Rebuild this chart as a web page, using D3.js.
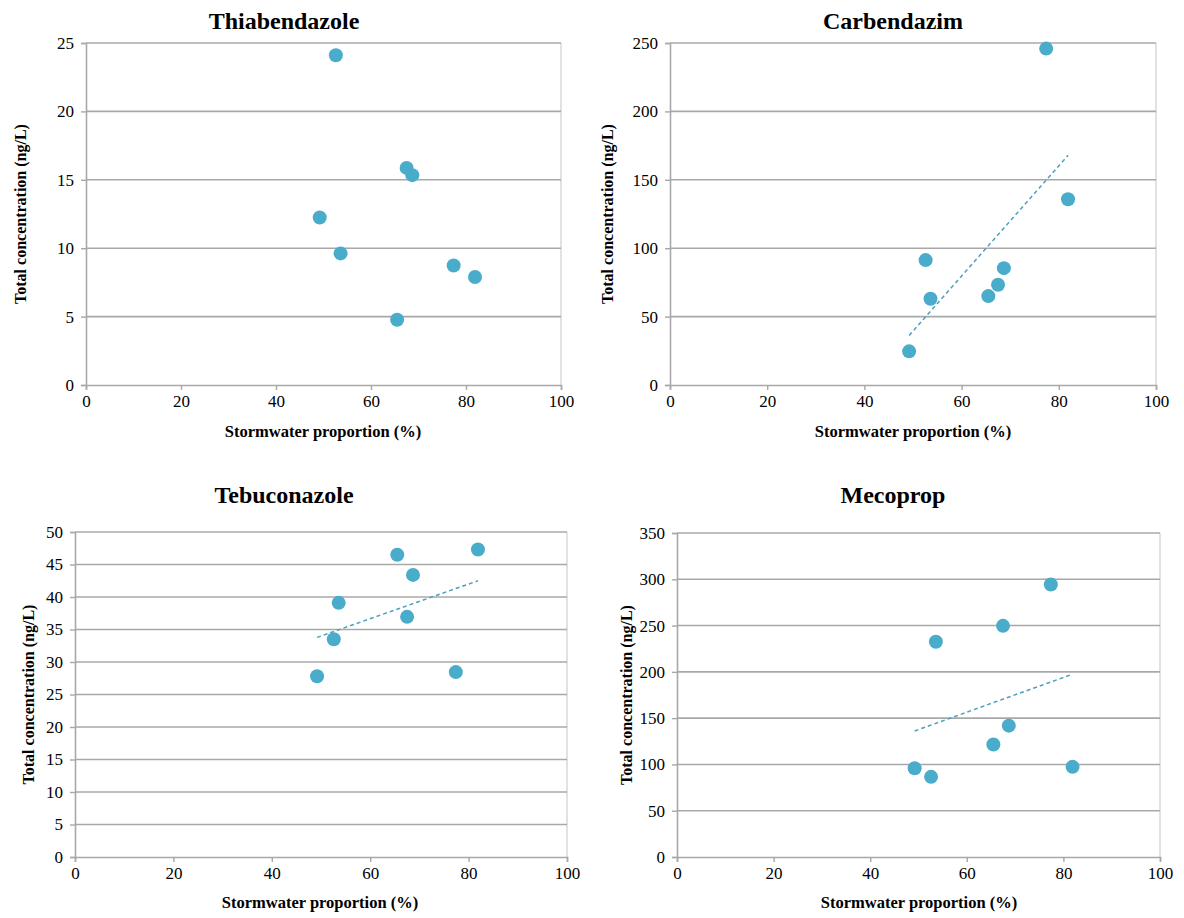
<!DOCTYPE html>
<html>
<head>
<meta charset="utf-8">
<script src="https://cdn.jsdelivr.net/npm/d3@7"></script>
<style>
  html, body { margin: 0; padding: 0; background: #fff; }
  svg { display: block; }
  svg text { font-family: "Liberation Serif", "Times New Roman", serif; fill: #000; }
</style>
</head>
<body>
<svg id="chart" width="1184" height="918" font-family="Liberation Serif, serif"></svg>
<script>
// ---- DATA ----
const stormwater = [49.2, 52.6, 53.6, 65.5, 67.5, 68.7, 77.4, 81.9];
const thiabendazole = [12.24, 24.1, 9.62, 4.77, 15.87, 15.34, 8.74, 7.89];
const carbendazim = [24.6, 91.3, 63.0, 65.0, 73.3, 85.4, 245.9, 135.8];
const tebuconazole = [27.8, 33.5, 39.1, 46.5, 36.95, 43.4, 28.45, 47.3];
const mecoprop = [95.9, 86.6, 232.5, 121.5, 249.7, 141.9, 294.3, 97.4];
const titles = ["Thiabendazole", "Carbendazim", "Tebuconazole", "Mecoprop"];
const xTicks = [0, 20, 40, 60, 80, 100];
const yTicksThia = [0, 5, 10, 15, 20, 25];
const yTicksCarb = [0, 50, 100, 150, 200, 250];
const yTicksTebu = [0, 5, 10, 15, 20, 25, 30, 35, 40, 45, 50];
const yTicksMeco = [0, 50, 100, 150, 200, 250, 300, 350];
const trendShown = [false, true, true, true];
const xLabel = "Stormwater proportion (%)";
const yLabel = "Total concentration (ng/L)";

// ---- LAYOUT ----
const panels = [
  { values: thiabendazole, ticks: yTicksThia, box: { l: 86, r: 561, t: 43, b: 385 }, titleX: 284, titleY: 29, yLabX: 20, xLabX: 323, xLabY: 437 },
  { values: carbendazim, ticks: yTicksCarb, box: { l: 670, r: 1156, t: 43, b: 385 }, titleX: 893, titleY: 29, yLabX: 607, xLabX: 913, xLabY: 437 },
  { values: tebuconazole, ticks: yTicksTebu, box: { l: 75, r: 567, t: 532, b: 857 }, titleX: 284, titleY: 503, yLabX: 28, xLabX: 320, xLabY: 908 },
  { values: mecoprop, ticks: yTicksMeco, box: { l: 677, r: 1160, t: 533, b: 857 }, titleX: 893, titleY: 503, yLabX: 626, xLabX: 919, xLabY: 908 }
];

const FONT = '"Liberation Serif", "Times New Roman", serif';
const svg = d3.select("#chart");
const dotColor = "#4aaccb";
const gridColor = "#a8a8a8";

panels.forEach((p, i) => {
  const b = p.box;
  const x = d3.scaleLinear().domain([0, 100]).range([b.l, b.r]);
  const yMax = p.ticks[p.ticks.length - 1];
  const y = d3.scaleLinear().domain([0, yMax]).range([b.b, b.t]);
  const g = svg.append("g");

  // right border
  g.append("line").attr("x1", b.r).attr("x2", b.r).attr("y1", b.t).attr("y2", b.b)
    .attr("stroke", "#cfcfcf").attr("stroke-width", 1.2);

  // gridlines
  g.append("g").selectAll("line").data(p.ticks.filter(v => v > 0)).join("line")
    .attr("x1", b.l).attr("x2", b.r)
    .attr("y1", d => y(d)).attr("y2", d => y(d))
    .attr("stroke", gridColor).attr("stroke-width", 1.6);

  // y axis
  const yAxis = g.append("g").attr("transform", `translate(${b.l},0)`)
    .call(d3.axisLeft(y).tickValues(p.ticks).tickSize(5).tickPadding(7).tickFormat(d3.format("d")));
  yAxis.attr("font-family", FONT).attr("font-size", 17);
  yAxis.select(".domain").attr("stroke", gridColor).attr("stroke-width", 1.6);
  yAxis.selectAll(".tick line").attr("stroke", gridColor).attr("stroke-width", 1.4);
  yAxis.selectAll("text").attr("font-family", FONT).style("font-family", FONT).style("font-size", "17px").attr("fill", "#111");

  // x axis
  const xAxis = g.append("g").attr("transform", `translate(0,${b.b})`)
    .call(d3.axisBottom(x).tickValues(xTicks).tickSize(5).tickPadding(5).tickFormat(d3.format("d")));
  xAxis.attr("font-family", FONT).attr("font-size", 17);
  xAxis.select(".domain").attr("stroke", gridColor).attr("stroke-width", 1.6);
  xAxis.selectAll(".tick line").attr("stroke", gridColor).attr("stroke-width", 1.4);
  xAxis.selectAll("text").attr("font-family", FONT).style("font-family", FONT).style("font-size", "17px").attr("fill", "#111");

  // trendline (least squares)
  if (trendShown[i]) {
    const pts = stormwater.map((sx, k) => [sx, p.values[k]]);
    const mx = d3.mean(pts, d => d[0]);
    const my = d3.mean(pts, d => d[1]);
    const slope = d3.sum(pts, d => (d[0] - mx) * (d[1] - my)) / d3.sum(pts, d => (d[0] - mx) ** 2);
    const icpt = my - slope * mx;
    const [x0, x1] = d3.extent(stormwater);
    g.append("line")
      .attr("x1", x(x0)).attr("y1", y(icpt + slope * x0))
      .attr("x2", x(x1)).attr("y2", y(icpt + slope * x1))
      .attr("stroke", "#4f9fbd").attr("stroke-width", 1.5)
      .attr("stroke-dasharray", "4,3");
  }

  // points
  g.append("g").selectAll("circle").data(stormwater.map((sx, k) => [sx, p.values[k]])).join("circle")
    .attr("cx", d => x(d[0])).attr("cy", d => y(d[1])).attr("r", 7)
    .attr("fill", dotColor);

  // title
  g.append("text").attr("x", p.titleX).attr("y", p.titleY).attr("text-anchor", "middle")
    .style("font-family", FONT).style("font-size", "24px").style("font-weight", "bold").text(titles[i]);

  // axis titles
  g.append("text").attr("x", p.xLabX).attr("y", p.xLabY).attr("text-anchor", "middle")
    .style("font-family", FONT).style("font-size", "16.5px").style("font-weight", "bold").text(xLabel);
  g.append("text")
    .attr("transform", `translate(${p.yLabX},${(b.t + b.b) / 2}) rotate(-90)`)
    .attr("text-anchor", "middle").attr("dy", "0.35em")
    .style("font-family", FONT).style("font-size", "16px").style("font-weight", "bold").text(yLabel);
});
</script>
</body>
</html>
